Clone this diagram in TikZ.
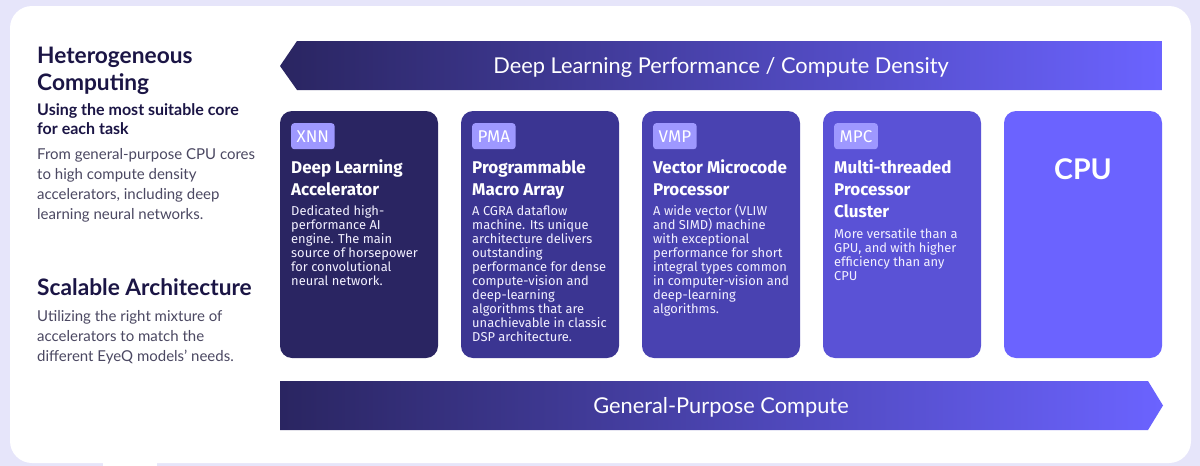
\documentclass[tikz,border=0pt]{standalone}
\usepackage{fontspec}
\setmainfont{Lato}
\newfontfamily\cardfont{Fira Sans}
\definecolor{bgl}{HTML}{E6E5FA}
\definecolor{ga}{HTML}{2A2561}
\definecolor{gb}{HTML}{6B63FF}
\definecolor{c1}{HTML}{2A2562}
\definecolor{c2}{HTML}{3B3592}
\definecolor{c3}{HTML}{4942B1}
\definecolor{c4}{HTML}{5A52D6}
\definecolor{c5}{HTML}{6B63FF}
\definecolor{tagc}{HTML}{9E98FF}
\definecolor{head}{HTML}{1B1545}
\definecolor{bodyg}{HTML}{4B4862}
\definecolor{cardtxt}{HTML}{F2F0FF}
\tikzset{
  card/.style={rounded corners=12pt, minimum width=158pt, minimum height=247pt, inner sep=0pt},
  tagbox/.style={fill=tagc, rounded corners=3pt, text=white, inner xsep=5.5pt, inner ysep=0pt,
     minimum height=26pt, font=\cardfont\fontsize{17}{17}\selectfont},
  ttl/.style={inner sep=0pt, align=left, text=white, font=\cardfont\bfseries\fontsize{17}{22}\selectfont},
  cbody/.style={inner sep=0pt, align=left, text=cardtxt, font=\cardfont\fontsize{12.9}{14}\selectfont},
  lhead/.style={inner sep=0pt, align=left, text=head, font=\bfseries\fontsize{22.7}{27}\selectfont},
  lsub/.style={inner sep=0pt, align=left, text=head, font=\bfseries\fontsize{16}{19}\selectfont},
  lbody/.style={inner sep=0pt, align=left, text=bodyg, font=\fontsize{15}{20}\selectfont},
  barlabel/.style={inner sep=0pt, text=white, font=\fontsize{21.8}{23}\selectfont},
}
\begin{document}
\begin{tikzpicture}[x=1pt,y=-1pt]
\fill[bgl] (0,0) rectangle (1200,466);
\useasboundingbox (0,0) rectangle (1200,466);
% panel
\fill[white, rounded corners=22pt] (10,6) rectangle (1191,463);
\fill[white] (103,450) rectangle (157,466);
% top arrow
\shade[left color=ga, right color=gb] (280,66) -- (297,41) -- (1162,41) -- (1162,90) -- (297,90) -- cycle;
\node[barlabel, anchor=base] (dlp) at (721,73.5) {Deep Learning Performance / Compute Density};
% bottom arrow
\shade[left color=ga, right color=gb] (280,381) -- (1148,381) -- (1163,405.5) -- (1148,430) -- (280,430) -- cycle;
\node[barlabel, anchor=base] (gpc) at (721,413) {General-Purpose Compute};
% left column
\node[lhead, anchor=north west] (het) at (37,45) {\rule{0pt}{18pt}Heterogeneous\\Computing};
\node[lsub, anchor=north west] (use) at (37,102.7) {\rule{0pt}{13pt}Using the most suitable core\\for each task};
\node[lbody, anchor=north west] (from) at (37,146) {\rule{0pt}{13pt}From general-purpose CPU cores\\to high compute density\\accelerators, including deep\\learning neural networks.};
\node[lhead, anchor=north west] (scal) at (37,277) {\rule{0pt}{18pt}Scalable Architecture};
\node[lbody, anchor=north west] (util) at (37,308.7) {\rule{0pt}{13pt}Utilizing the right mixture of\\accelerators to match the\\different EyeQ models’ needs.};
% cards
\node[card, fill=c1] (xnn) at (359,234.5) {};
\node[card, fill=c2] (pma) at (540,234.5) {};
\node[card, fill=c3] (vmp) at (721,234.5) {};
\node[card, fill=c4] (mpc) at (902,234.5) {};
\node[card, fill=c5] (cpu) at (1083,234.5) {};
% XNN
\node[tagbox, anchor=north west] (xnntag) at (291,123) {XNN};
\node[ttl, anchor=north west] (xnnh) at (291,160) {\rule{0pt}{13pt}Deep Learning\\Accelerator};
\node[cbody, anchor=north west] (xnnb) at (291,204.5) {\rule{0pt}{10.5pt}Dedicated high-\\performance AI\\engine. The main\\source of horsepower\\for convolutional\\neural network.};
% PMA
\node[tagbox, anchor=north west] (pmatag) at (472,123) {PMA};
\node[ttl, anchor=north west] (pmah) at (472,160) {\rule{0pt}{13pt}Programmable\\Macro Array};
\node[cbody, anchor=north west] (pmab) at (472,204.5) {\rule{0pt}{10.5pt}A CGRA dataflow\\machine. Its unique\\architecture delivers\\outstanding\\performance for dense\\compute-vision and\\deep-learning\\algorithms that are\\unachievable in classic\\DSP architecture.};
% VMP
\node[tagbox, anchor=north west] (vmptag) at (653,123) {VMP};
\node[ttl, anchor=north west] (vmph) at (653,160) {\rule{0pt}{13pt}Vector Microcode\\Processor};
\node[cbody, anchor=north west] (vmpb) at (653,204.5) {\rule{0pt}{10.5pt}A wide vector (VLIW\\and SIMD) machine\\with exceptional\\performance for short\\integral types common\\in computer-vision and\\deep-learning\\algorithms.};
% MPC
\node[tagbox, anchor=north west] (mpctag) at (834,123) {MPC};
\node[ttl, anchor=north west] (mpch) at (834,160) {\rule{0pt}{13pt}Multi-threaded\\Processor\\Cluster};
\node[cbody, anchor=north west] (mpcb) at (834,227.5) {\rule{0pt}{10.5pt}More versatile than a\\GPU, and with higher\\efficiency than any\\CPU};
% CPU
\node[inner sep=0pt, text=white, font=\bfseries\fontsize{28.5}{30}\selectfont, anchor=base] (cpul) at (1083,179) {CPU};
\end{tikzpicture}
\end{document}
